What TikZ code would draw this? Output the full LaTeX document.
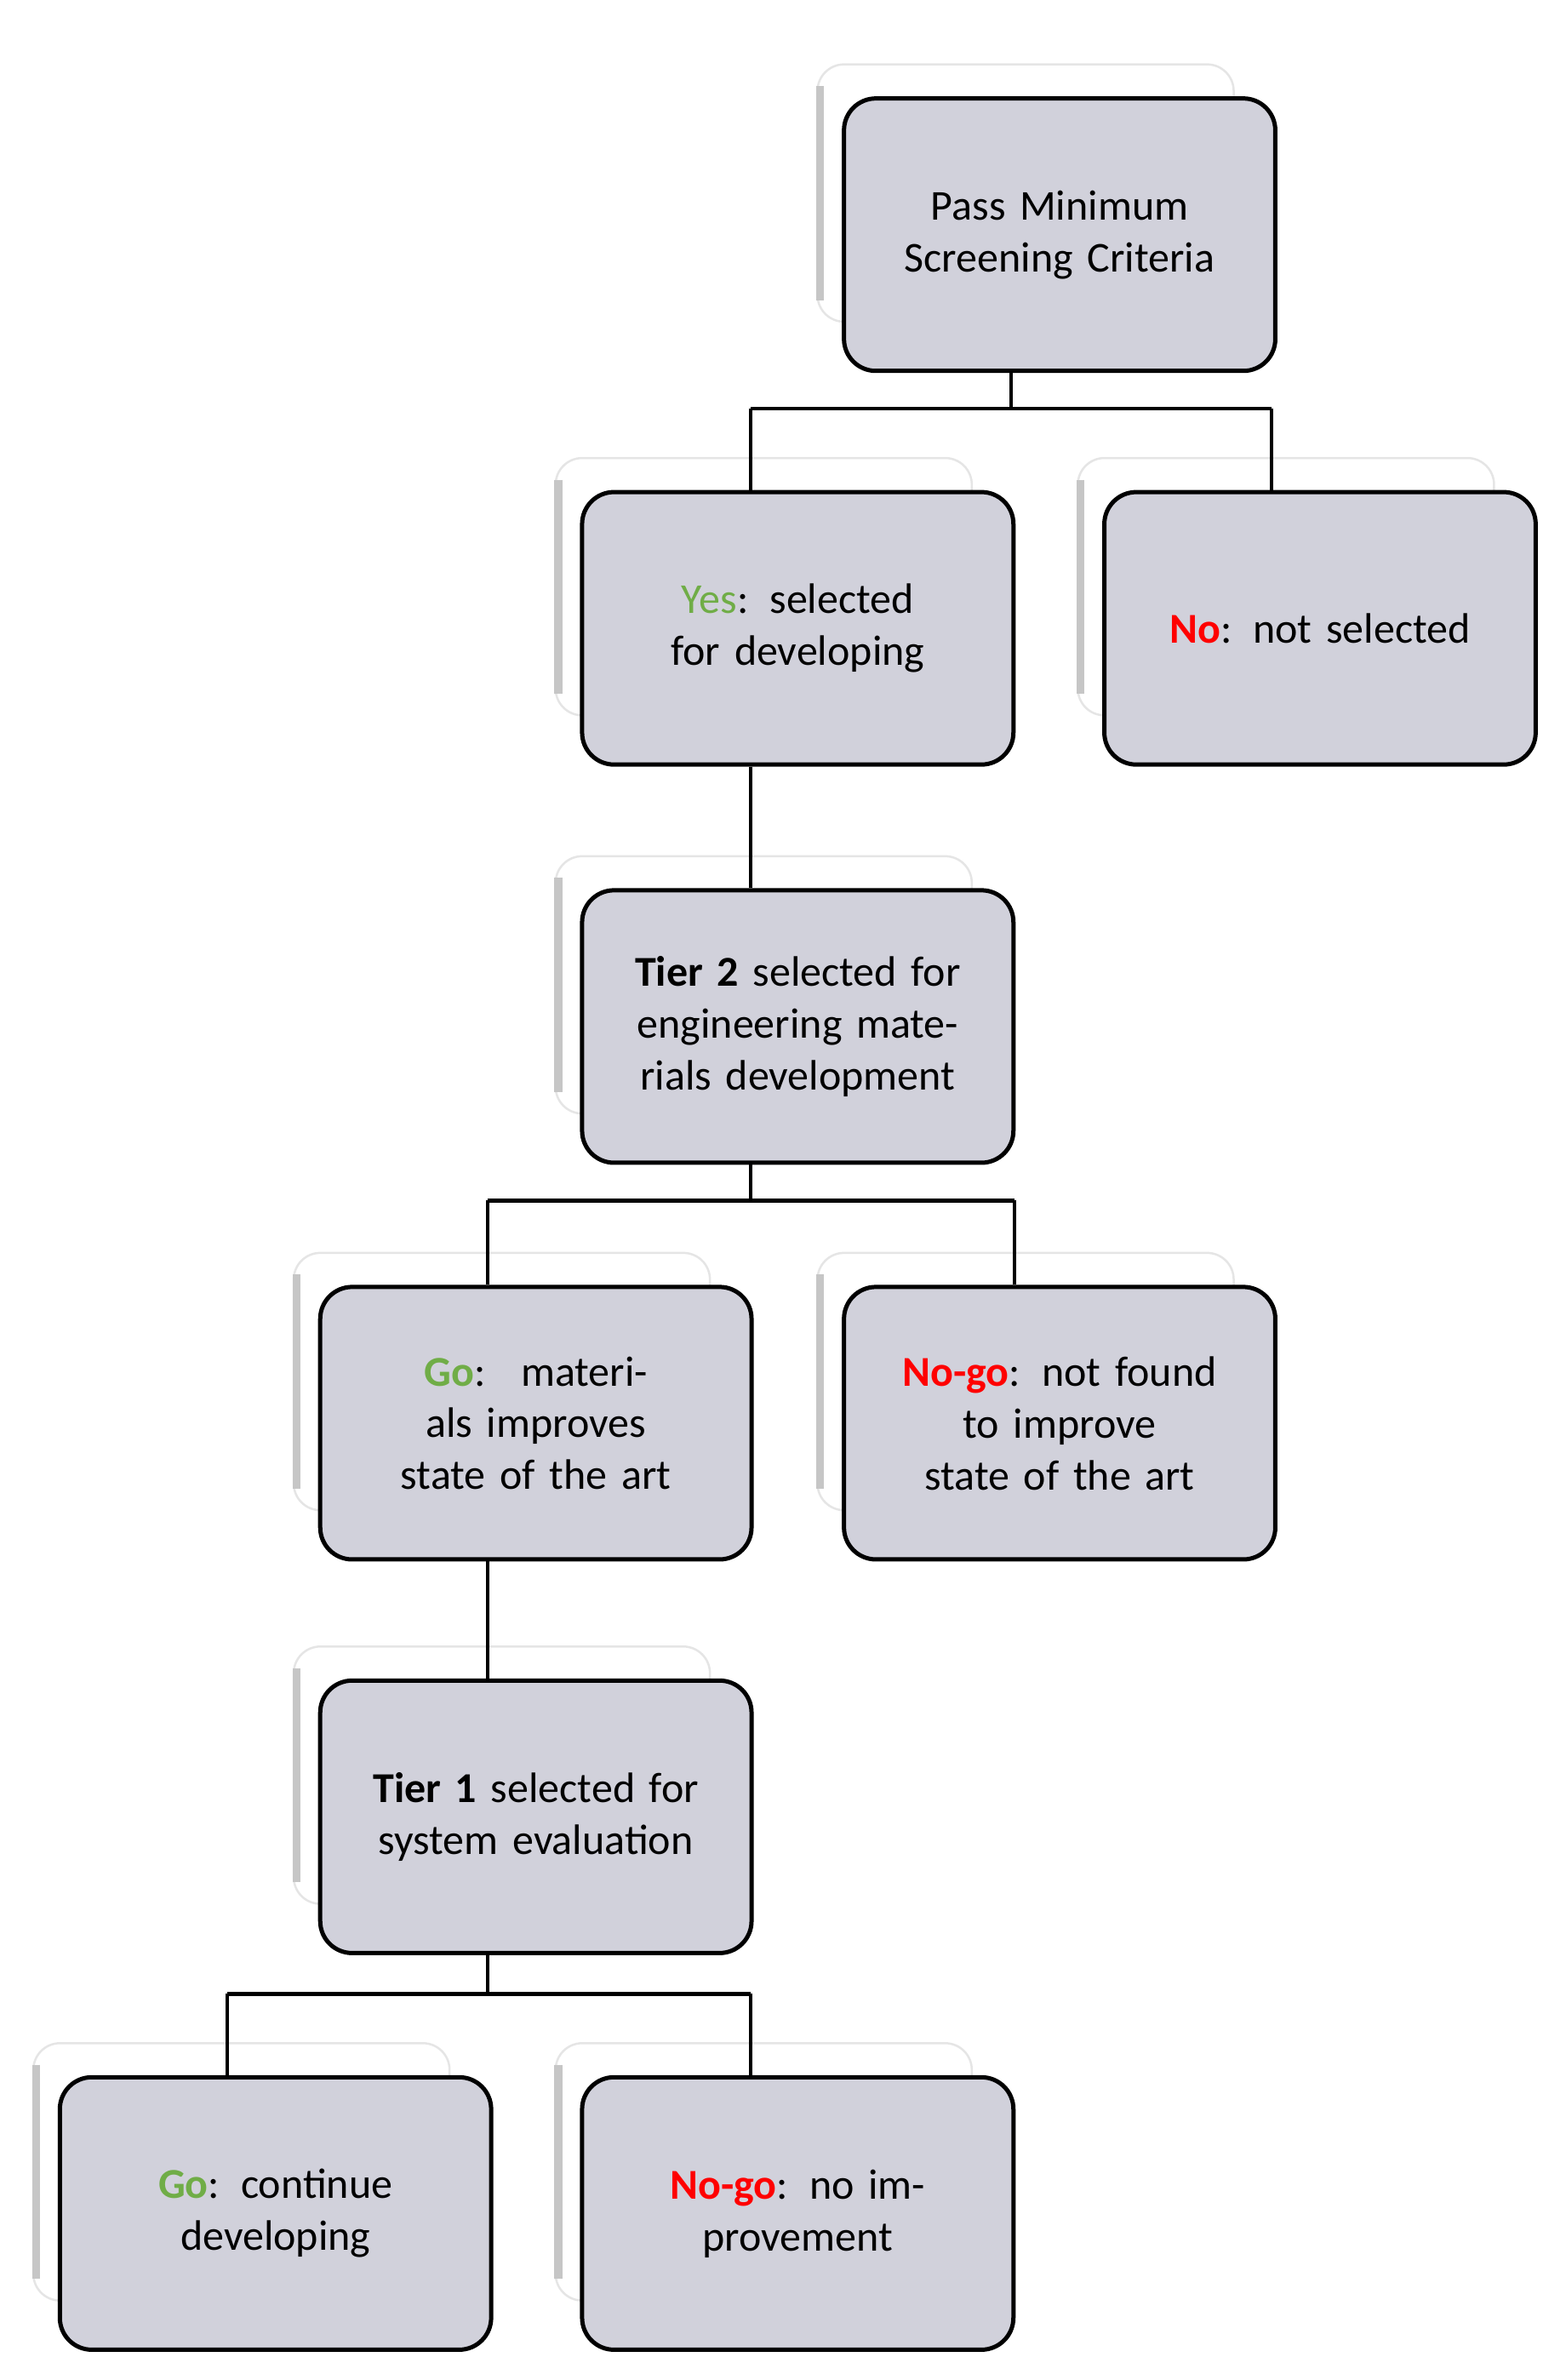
\documentclass[tikz,border=0pt]{standalone}
\usepackage{fontspec}
\setmainfont{Carlito}
\usetikzlibrary{positioning}
\definecolor{boxfill}{RGB}{209,209,219}
\definecolor{gogreen}{RGB}{112,173,71}
\definecolor{nored}{RGB}{255,0,0}
\tikzset{
  stage/.style={draw=black,line width=1.6pt,rounded corners=12pt,fill=boxfill,
    minimum width=5.7cm,minimum height=3.6cm,text width=5cm,align=center,
    font=\fontsize{16}{19.5}\selectfont},
  ghost/.style={draw=gray!20,line width=0.8pt,rounded corners=10pt,fill=white,
    minimum width=5.5cm,minimum height=3.4cm},
  link/.style={draw=black,line width=1.4pt}
}
\newcommand{\stagebox}[4]{%
  \node[ghost] (#1g) at ([shift={(-0.45cm,0.55cm)}]#2) {};
  \draw[gray!45,line width=3pt] ([shift={(0.05cm,-0.3cm)}]#1g.north west) -- ([shift={(0.05cm,0.3cm)}]#1g.south west);
  \node[stage] (#1) at (#2) {#3};}
\begin{document}
\begin{tikzpicture}[x=0.02cm,y=-0.02cm]
\useasboundingbox (0,0) rectangle (1034,1572);
\stagebox{pass}{700,155}{Pass Minimum\\Screening Criteria}{}
\stagebox{yes}{527,415}{\textcolor{gogreen}{Yes}: selected for developing}{}
\stagebox{no}{872,415}{\textcolor{nored}{\textbf{No}}: not selected}{}
\stagebox{tiertwo}{527,678}{\textbf{Tier 2} selected for engineering materials development}{}
\stagebox{go}{354,940}{\textcolor{gogreen}{\textbf{Go}}:~ materials improves state of the art}{}
\stagebox{nogo}{700,940}{\textcolor{nored}{\textbf{No-go}}: not found to improve state of the art}{}
\stagebox{tierone}{354,1200}{\textbf{Tier 1} selected for system evaluation}{}
\stagebox{gotwo}{182,1462}{\textcolor{gogreen}{\textbf{Go}}: continue developing}{}
\stagebox{nogotwo}{527,1462}{\textcolor{nored}{\textbf{No-go}}: no improvement}{}
% connectors
\coordinate (busa) at (668,270);
\draw[link] (pass.south -| busa) -- (busa);
\draw[link] (496,270) -- (840,270);
\draw[link] (496,270) -- (yes.north -| 496,0);
\draw[link] (840,270) -- (no.north -| 840,0);
\draw[link] (yes.south -| 496,0) -- (tiertwo.north -| 496,0);
\draw[link] (tiertwo.south -| 496,0) -- (496,793);
\draw[link] (322,793) -- (670,793);
\draw[link] (322,793) -- (go.north -| 322,0);
\draw[link] (670,793) -- (nogo.north -| 670,0);
\draw[link] (go.south -| 322,0) -- (tierone.north -| 322,0);
\draw[link] (tierone.south -| 322,0) -- (322,1317);
\draw[link] (150,1317) -- (496,1317);
\draw[link] (150,1317) -- (gotwo.north -| 150,0);
\draw[link] (496,1317) -- (nogotwo.north -| 496,0);
\end{tikzpicture}
\end{document}
